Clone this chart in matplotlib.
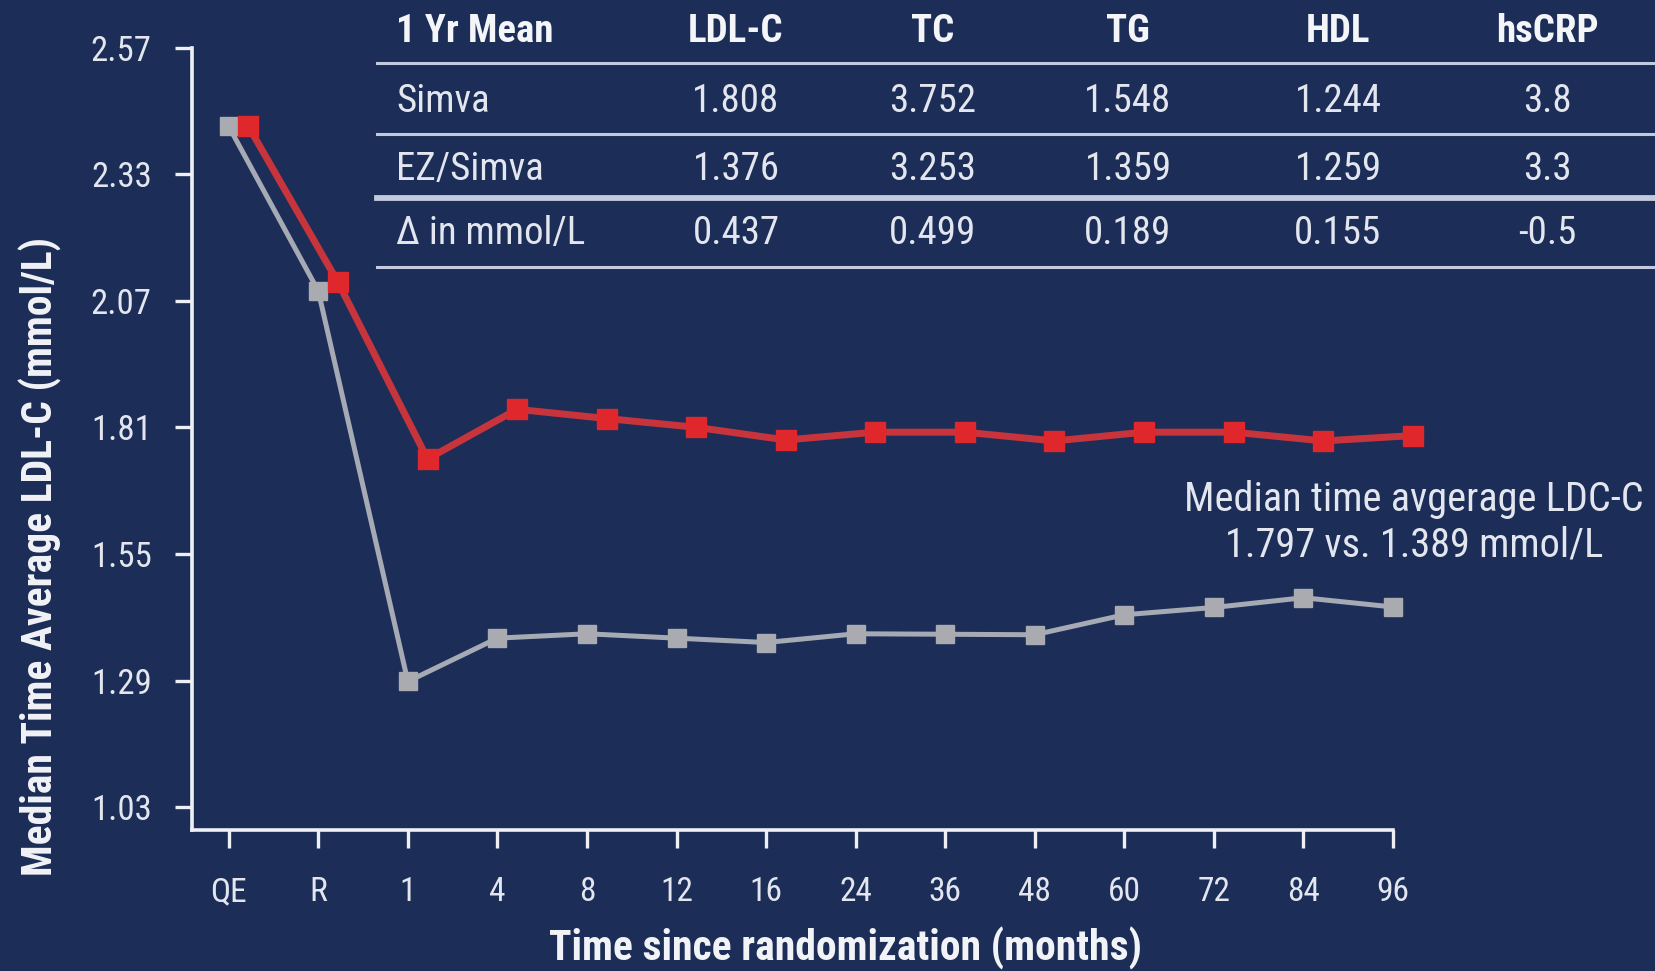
import matplotlib
matplotlib.use("Agg")
import matplotlib.pyplot as plt
from matplotlib.lines import Line2D

# median time-averaged LDL-C (mmol/L) at each visit
time_labels = ["QE", "R", "1", "4", "8", "12", "16", "24", "36", "48", "60", "72", "84", "96"]
simva = [2.428, 2.108, 1.745, 1.847, 1.828, 1.810, 1.784, 1.800, 1.800, 1.782,
         1.800, 1.800, 1.782, 1.793]
ez_simva = [2.428, 2.090, 1.288, 1.377, 1.386, 1.377, 1.368, 1.386, 1.385, 1.384,
            1.425, 1.440, 1.460, 1.441]

y_ticks = [1.03, 1.29, 1.55, 1.81, 2.07, 2.33, 2.59]
y_tick_labels = ["1.03", "1.29", "1.55", "1.81", "2.07", "2.33", "2.57"]

# 1 year means table
table_header = ["1 Yr Mean", "LDL-C", "TC", "TG", "HDL", "hsCRP"]
table_rows = [
    ["Simva", "1.808", "3.752", "1.548", "1.244", "3.8"],
    ["EZ/Simva", "1.376", "3.253", "1.359", "1.259", "3.3"],
    ["\u0394 in mmol/L", "0.437", "0.499", "0.189", "0.155", "-0.5"],
]

note = "Median time avgerage LDC-C\n1.797 vs. 1.389 mmol/L"

plt.rcParams["font.family"] = ["Liberation Sans Narrow", "Roboto Condensed",
                               "DejaVu Sans Condensed", "Liberation Sans", "DejaVu Sans"]

bg = "#1c2e57"
fg = "#e3e6ee"
W, H = 1655, 971

fig = plt.figure(figsize=(W / 100, H / 100), dpi=100, facecolor=bg)
ax = fig.add_axes([192 / W, 1 - 830 / H, (1393 - 192) / W, (830 - 47.5) / H])
ax.set_facecolor(bg)

x = list(range(len(time_labels)))
x_red = [i + 0.22 for i in x]

ax.plot(x, ez_simva, color="#a6aab4", lw=3.6, marker="s", ms=13,
        mfc="#a9abb0", mec="#a9abb0", zorder=3, clip_on=False)
ax.plot(x_red, simva, color="#c8343c", lw=5, marker="s", ms=14,
        mfc="#e0282c", mec="#e0282c", zorder=4, clip_on=False)

ax.set_xlim(-0.41, 13.0)
ax.set_ylim(0.983, 2.59)

for side in ["top", "right"]:
    ax.spines[side].set_visible(False)
for side in ["left", "bottom"]:
    ax.spines[side].set_color("#eef0f6")
    ax.spines[side].set_linewidth(2.6)

ax.set_xticks(x)
ax.set_xticklabels(time_labels)
ax.set_yticks(y_ticks)
ax.set_yticklabels(y_tick_labels)
ax.tick_params(axis="both", colors="#eef0f6", width=2.4, labelcolor=fg)
ax.tick_params(axis="y", length=12, pad=17, labelsize=25)
ax.tick_params(axis="x", length=13, pad=20, labelsize=24)

ax.set_xlabel("Time since randomization (months)", fontsize=30, fontweight="bold", color="#f2f3f7")
ax.xaxis.set_label_coords((845 - 192) / 1201, (830 - 948) / 782.5)
ax.xaxis.label.set_verticalalignment("center")
ax.set_ylabel("Median Time Average LDL-C (mmol/L)", fontsize=30, fontweight="bold", color="#f2f3f7")
ax.yaxis.set_label_coords((40 - 192) / 1201, (830 - 556) / 782.5)
ax.yaxis.label.set_verticalalignment("center")

ax.text((1414 - 192) / 1201, (830 - 522) / 782.5, note,
        transform=ax.transAxes, ha="center", va="center", fontsize=29,
        color=fg, linespacing=1.2, clip_on=False)

# table drawn in figure pixel coordinates
col_x = [396, 736, 933, 1128, 1338, 1547]
row_y = [32, 102, 169, 234]
line_y = [63, 134, 198, 267]
line_w = [2.2, 2.2, 4.2, 2.2]

for j, h in enumerate(table_header):
    fig.text(col_x[j] / W, 1 - row_y[0] / H, h, ha="left" if j == 0 else "center",
             va="center", fontsize=28, fontweight="bold", color="#f4f5f9")
for i, row in enumerate(table_rows):
    for j, v in enumerate(row):
        fig.text(col_x[j] / W, 1 - row_y[i + 1] / H, v, ha="left" if j == 0 else "center",
                 va="center", fontsize=28, color=fg)
for ly, lw in zip(line_y, line_w):
    fig.add_artist(Line2D([377 / W, 1.0], [1 - ly / H, 1 - ly / H],
                          transform=fig.transFigure, color="#c3c9de", lw=lw))

fig.savefig("out.png", dpi=100, facecolor=bg)
